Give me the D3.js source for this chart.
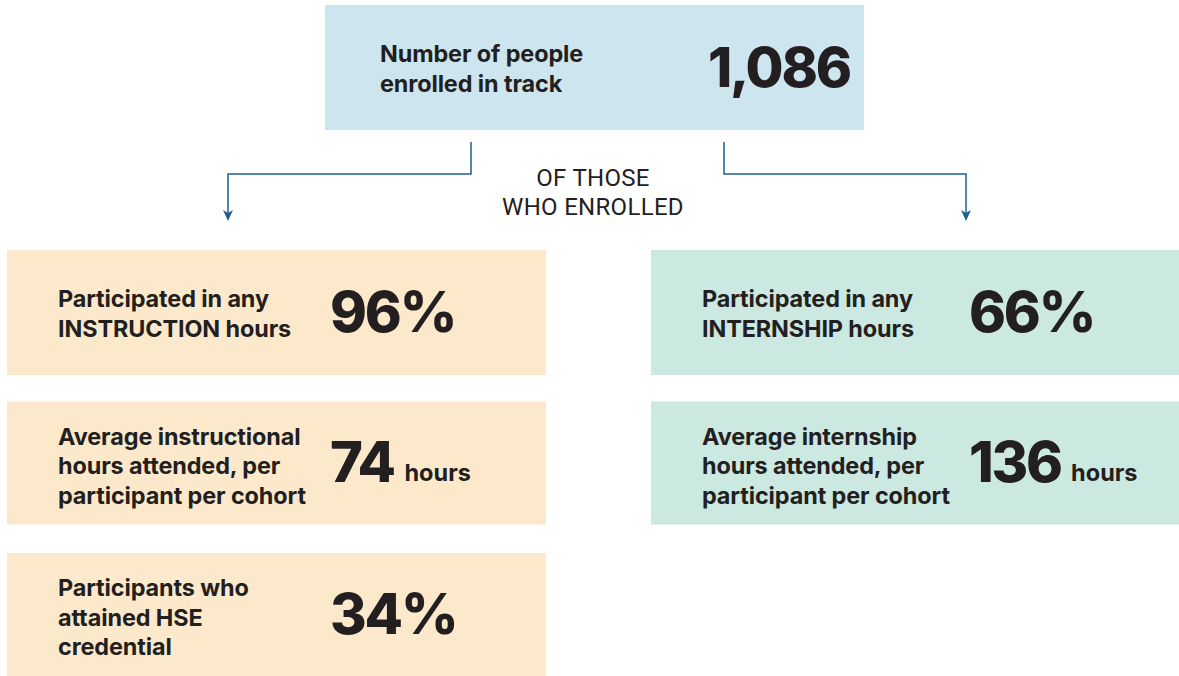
<!DOCTYPE html>
<html><head><meta charset="utf-8">
<script src="https://cdn.jsdelivr.net/npm/d3@7"></script>
<style>
html,body{margin:0;padding:0;background:#fff;}
svg{display:block;}
text{font-family:Inter, Roboto, "Noto Sans", sans-serif;fill:#231f20;}
</style></head><body>
<svg id="c" width="1179" height="676"></svg>
<script>
// ---- data ----
const topLabel = ["Number of people", "enrolled in track"];
const topValue = "1,086";
const connectorText = ["OF THOSE", "WHO ENROLLED"];

const instructionLabels = [
  ["Participated in any", "INSTRUCTION hours"],
  ["Average instructional", "hours attended, per", "participant per cohort"],
  ["Participants who", "attained HSE", "credential"]
];
const instructionValues = ["96%", "74", "34%"];
const instructionUnits = ["", "hours", ""];

const internshipLabels = [
  ["Participated in any", "INTERNSHIP hours"],
  ["Average internship", "hours attended, per", "participant per cohort"]
];
const internshipValues = ["66%", "136"];
const internshipUnits = ["", "hours"];

// ---- layout ----
const svg = d3.select("#c");
const colX = d3.scaleOrdinal().domain(["instruction","internship"]).range([7, 651]);
const colW = d3.scaleOrdinal().domain(["instruction","internship"]).range([539, 528]);
const rowY = d3.scaleLinear().domain([0, 1]).range([250, 401.5]);
const boxH = 123;
const fills = {top:"#cde5ee", instruction:"#fce9cc", internship:"#cbe8e1"};
const lineH = 29.5;

function drawBox(g, x, y, w, h, fill, label, value, unit, labelDx, valueDx, valueSize) {
  g.append("rect").attr("x", x).attr("y", y).attr("width", w).attr("height", h).attr("fill", fill);
  const n = label.length;
  const cy = y + h/2;
  const first = cy - (n-1)*lineH/2 + (n === 3 ? 11 : 9.5);
  const t = g.append("text").attr("font-size", 23.4).attr("font-weight", 700).attr("letter-spacing", -0.1);
  label.forEach((l,i)=> t.append("tspan").attr("x", x+labelDx).attr("y", first + i*lineH).text(l));
  const vt = g.append("text").attr("x", x+valueDx).attr("y", cy + 19)
    .attr("font-size", valueSize).attr("font-weight", 800).attr("letter-spacing", -2.2).text(value);
  if (unit) {
    const bb = vt.node().getBBox();
    g.append("text").attr("x", bb.x + bb.width + 10).attr("y", cy + 18)
      .attr("font-size", 23.5).attr("font-weight", 700).text(unit);
  }
}

// top box
drawBox(svg.append("g"), 325, 5, 539, 125, fills.top, topLabel, topValue, "", 55, 383, 55);

// columns
instructionLabels.forEach((lab,i)=>{
  drawBox(svg.append("g"), colX("instruction"), rowY(i), colW("instruction"), i===0?125:boxH,
    fills.instruction, lab, instructionValues[i], instructionUnits[i], 51, 323, 56);
});
internshipLabels.forEach((lab,i)=>{
  drawBox(svg.append("g"), colX("internship"), rowY(i), colW("internship"), i===0?125:boxH,
    fills.internship, lab, internshipValues[i], internshipUnits[i], 51, 318, 56);
});

// connectors
const lc = "#1f5f8e";
const line = d3.line();
svg.append("path").attr("d", line([[471,142],[471,174],[228,174],[228,214]]))
  .attr("fill","none").attr("stroke",lc).attr("stroke-width",1.5);
svg.append("path").attr("d", line([[724,142],[724,174],[966,174],[966,214]]))
  .attr("fill","none").attr("stroke",lc).attr("stroke-width",1.5);
svg.append("path").attr("d","M223,210 L228,221 L233,210 L228,213 Z").attr("fill",lc);
svg.append("path").attr("d","M961,210 L966,221 L971,210 L966,213 Z").attr("fill",lc);

const ct = svg.append("text").attr("text-anchor","middle").attr("font-size",24).attr("font-weight",400)
  .attr("letter-spacing", 0.3).style("font-family","Roboto, Inter, sans-serif");
connectorText.forEach((l,i)=> ct.append("tspan").attr("x",593).attr("y",186 + i*29).text(l));
</script>
</body></html>
